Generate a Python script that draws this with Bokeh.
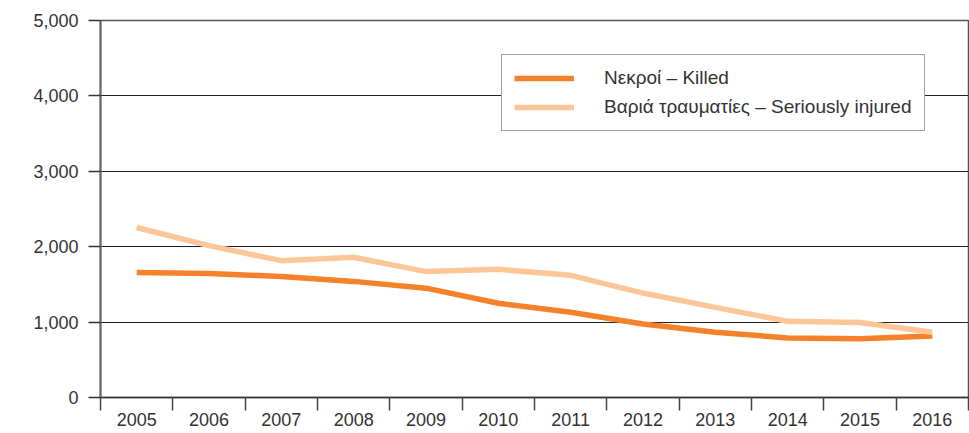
from bokeh.plotting import figure
from bokeh.models import FixedTicker, Legend, LegendItem, Range1d, NumeralTickFormatter
from bokeh.embed import file_html
from bokeh.resources import INLINE

years = [2005, 2006, 2007, 2008, 2009, 2010, 2011, 2012, 2013, 2014, 2015, 2016]
killed = [1658, 1645, 1605, 1540, 1450, 1250, 1130, 975, 865, 790, 780, 815]
injured = [2255, 2015, 1815, 1860, 1670, 1700, 1620, 1385, 1195, 1010, 995, 865]
y_ticks = [0, 1000, 2000, 3000, 4000, 5000]
label_killed = "Νεκροί – Killed"
label_injured = "Βαριά τραυματίες – Seriously injured"

FONT = "Liberation Sans"
TXT = "#333333"

p = figure(width=969, height=433, output_backend="svg", toolbar_location=None,
           x_range=Range1d(years[0] - 0.5, years[-1] + 0.5),
           y_range=Range1d(y_ticks[0], y_ticks[-1]),
           min_border_left=100, min_border_right=1, min_border_top=20, min_border_bottom=36)

p.background_fill_color = "white"
p.border_fill_color = "white"
p.outline_line_color = "#555555"
p.outline_line_width = 1.5

r1 = p.line(years, killed, line_color="#F5822A", line_width=5.5)
r2 = p.line(years, injured, line_color="#FDC698", line_width=5.5)

# x axis: labels at centers, ticks at boundaries
xa = p.xaxis[0]
xa.ticker = FixedTicker(ticks=years, minor_ticks=[y - 0.5 for y in years] + [years[-1] + 0.5])
xa.major_tick_out = 0
xa.major_tick_in = 0
xa.minor_tick_out = 13
xa.minor_tick_in = 0
xa.minor_tick_line_color = "#444444"
xa.minor_tick_line_width = 1.5
xa.axis_line_color = "#333333"
xa.axis_line_width = 1.5
xa.major_label_text_font = FONT
xa.major_label_text_font_size = "18px"
xa.major_label_text_color = TXT
xa.major_label_standoff = 2

ya = p.yaxis[0]
ya.ticker = FixedTicker(ticks=y_ticks)
ya.formatter = NumeralTickFormatter(format="0,0")
ya.major_tick_out = 12
ya.major_tick_in = 0
ya.major_tick_line_color = "#333333"
ya.major_tick_line_width = 1.5
ya.minor_tick_out = 0
ya.minor_tick_in = 0
ya.axis_line_color = "#666666"
ya.axis_line_width = 2
ya.major_label_text_font = FONT
ya.major_label_text_font_size = "18px"
ya.major_label_text_color = TXT
ya.major_label_standoff = 10

p.xgrid.grid_line_color = None
p.ygrid.grid_line_color = "#222222"
p.ygrid.grid_line_width = 1.2

legend = Legend(items=[LegendItem(label=label_killed, renderers=[r1]),
                       LegendItem(label=label_injured, renderers=[r2])],
                location=(401, 266), orientation="vertical")
legend.border_line_color = "#444444"
legend.border_line_width = 1.5
legend.background_fill_color = "white"
legend.background_fill_alpha = 1
legend.padding = 12
legend.margin = 0
legend.spacing = 7
legend.glyph_width = 60
legend.glyph_height = 20
legend.label_height = 20
legend.label_standoff = 30
legend.label_text_font = FONT
legend.label_text_font_size = "19px"
legend.label_text_color = TXT
p.add_layout(legend, "center")

open("out.html", "w").write(file_html(p, INLINE))
